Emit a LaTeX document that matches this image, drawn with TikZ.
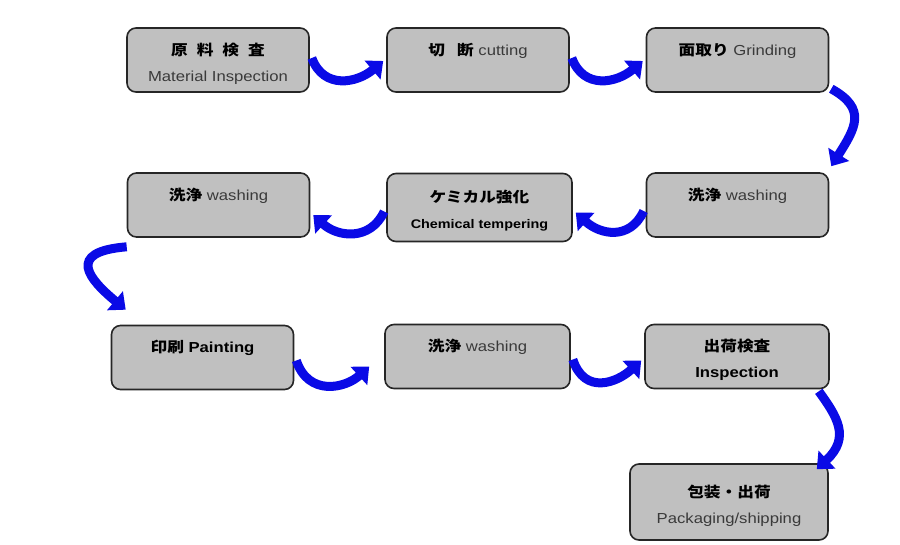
\documentclass[tikz,border=0pt]{standalone}
\usepackage{fontspec}
\setmainfont{Liberation Sans}[FakeStretch=1.15]
\newfontfamily\jpfont{Noto Sans CJK JP}[FakeStretch=1.15]
\usepackage{xcolor}
\usepackage{tikz}
\usetikzlibrary{arrows.meta}
\definecolor{boxgray}{HTML}{C0C0C0}
\definecolor{textgray}{HTML}{3A3A3A}
\definecolor{arrowblue}{HTML}{0A0AE6}
\newcommand{\ja}[1]{{\jpfont\bfseries #1}}
\newcommand{\en}[1]{{\color{textgray}#1}}
\newcommand{\twoline}[2]{\rule{0pt}{24pt}#1\\#2\strut}
\tikzset{
    station/.style={rectangle, draw=black!85, fill=boxgray, line width=1.6pt, rounded corners=9pt, minimum width=#1, minimum height=64pt, inner ysep=2pt, align=center, font=\fontsize{14.5pt}{26pt}\selectfont},
    station/.default=182pt,
    flow/.style={draw=arrowblue, line width=9pt, -{Triangle[length=14pt, width=24pt]}}
}

\begin{document}
\begin{tikzpicture}[x=1pt, y=1pt]
    \useasboundingbox (0,0) rectangle (900,-544);

    % Process boxes
    \node[station] (inspect) at (218,-60) {\twoline{\ja{原\hspace{9pt}料\hspace{9pt}検\hspace{9pt}査}}{\en{Material Inspection}}};
    \node[station] (cut) at (478,-60) {\twoline{\ja{切\hspace{12pt}断} \en{cutting}}{}};
    \node[station] (grind) at (737.5,-60) {\twoline{\ja{面取り} \en{Grinding}}{}};
    \node[station] (washA) at (737.5,-205) {\twoline{\ja{洗浄} \en{washing}}{}};
    \node[station=185pt, minimum height=68pt] (temper) at (479.5,-207.5) {\twoline{\ja{ケミカル強化}}{{\bfseries\fontsize{12.5pt}{26pt}\selectfont Chemical tempering}}};
    \node[station] (washB) at (218.5,-205) {\twoline{\ja{洗浄} \en{washing}}{}};
    \node[station] (paint) at (202.5,-357.5) {\twoline{\ja{印刷} \textbf{Painting}}{}};
    \node[station=185pt] (washC) at (477.5,-356.5) {\twoline{\ja{洗浄} \en{washing}}{}};
    \node[station=184pt] (check) at (737,-356.5) {\twoline{\ja{出荷検査}}{\textbf{Inspection}}};
    \node[station=198pt, minimum height=76pt] (ship) at (729,-502) {\twoline{\ja{包装・出荷}}{\en{Packaging/shipping}}};

    % Curved arrows
    \draw[flow] ([xshift=2pt,yshift=2pt]inspect.east) .. controls +(12,-32) and +(-26,-22) .. ([xshift=-3pt,yshift=-1pt]cut.west);
    \draw[flow] ([xshift=2pt,yshift=2pt]cut.east) .. controls +(12,-32) and +(-26,-22) .. ([xshift=-3pt,yshift=-1pt]grind.west);
    \draw[flow] ([xshift=2pt,yshift=4pt]grind.south east) .. controls +(36,-20) and +(24,38) .. ([xshift=2pt,yshift=6pt]washA.north east);
    \draw[flow] ([xshift=-2pt,yshift=-6pt]washA.west) .. controls +(-14,-30) and +(24,-22) .. ([xshift=3pt,yshift=-5pt]temper.east);
    \draw[flow] ([xshift=-2pt,yshift=-4pt]temper.west) .. controls +(-14,-30) and +(24,-22) .. ([xshift=3pt,yshift=-10pt]washB.east);
    \draw[flow] ([yshift=-9pt]washB.south west) .. controls +(-62,-5) and +(-36,30) .. ([xshift=15pt,yshift=15pt]paint.north west);
    \draw[flow] ([xshift=2pt,yshift=-3pt]paint.east) .. controls +(12,-36) and +(-24,-22) .. ([xshift=-15pt,yshift=-10pt]washC.west);
    \draw[flow] ([xshift=2pt,yshift=-3pt]washC.east) .. controls +(12,-36) and +(-24,-22) .. ([xshift=-3pt,yshift=-4pt]check.west);
    \draw[flow] ([xshift=-11pt,yshift=-2pt]check.south east) .. controls +(18,-25) and +(34,32) .. ([xshift=-12pt,yshift=-6pt]ship.north east);
\end{tikzpicture}
\end{document}
